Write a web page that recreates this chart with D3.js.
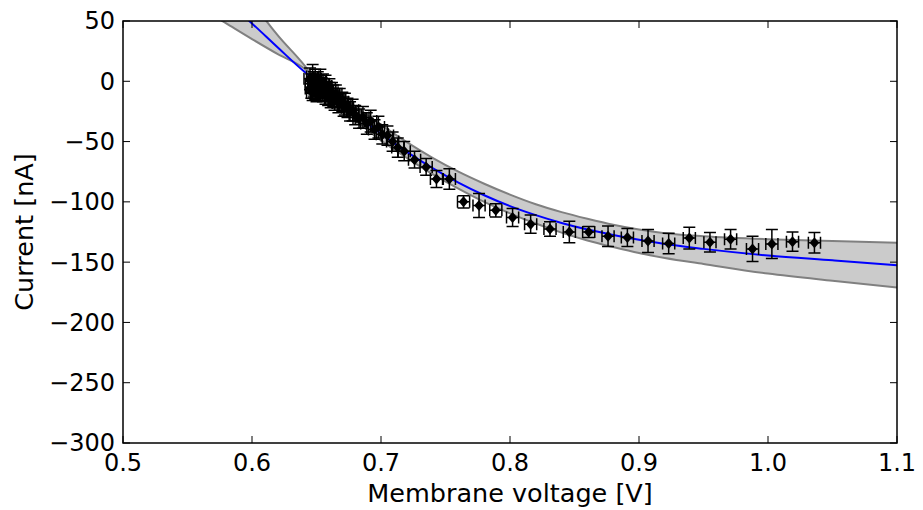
<!DOCTYPE html>
<html>
<head>
<meta charset="utf-8">
<script src="https://cdn.jsdelivr.net/npm/d3@7"></script>
<style>
  body { margin: 0; background: #fff; }
  text { font-family: "DejaVu Sans", sans-serif; }
</style>
</head>
<body>
<div id="chart"></div>
<script>
// measured points: voltage [V], current [nA], y error [nA]
const voltage = [
  0.645, 0.646, 0.646, 0.647, 0.647, 0.648, 0.648, 0.649, 0.649, 0.650,
  0.650, 0.651, 0.651, 0.652, 0.653, 0.653, 0.654, 0.655, 0.655, 0.656,
  0.657, 0.657, 0.658, 0.659, 0.660, 0.660, 0.661, 0.662, 0.663, 0.664,
  0.665, 0.666, 0.667, 0.668, 0.670, 0.671, 0.672, 0.674, 0.676, 0.678,
  0.680, 0.683, 0.686, 0.689, 0.692, 0.695, 0.698, 0.701, 0.705, 0.709,
  0.713, 0.718, 0.726, 0.735, 0.743, 0.753, 0.764, 0.776, 0.789, 0.802,
  0.816, 0.831, 0.846, 0.861, 0.876, 0.891, 0.907, 0.923, 0.939, 0.955,
  0.971, 0.988, 1.003, 1.019, 1.036
];
const current = [
  2, -2, -6, 4, -9, 0, -4, -7, 2, -3,
  -10, -1, -6, -3, -8, 1, -5, -9, -2, -6,
  -11, -4, -8, -12, -6, -10, -14, -9, -12, -16,
  -11, -14, -18, -15, -17, -21, -19, -22, -25, -24,
  -28, -31, -30, -35, -33, -40, -38, -44, -45, -50,
  -55, -58, -65, -71, -81, -81, -100, -103, -107, -113,
  -118.5, -122.5, -125, -125, -128.5, -129.5, -132.5, -134.5, -130, -133.5,
  -131, -139, -135, -133, -134
];
const currentErr = [
  9, 8, 8, 10, 7, 8, 9, 8, 8, 8,
  7, 9, 8, 8, 8, 9, 8, 8, 8, 8,
  8, 9, 8, 8, 8, 9, 8, 8, 9, 8,
  8, 8, 8, 9, 8, 8, 9, 8, 8, 9,
  8, 8, 9, 9, 9, 8, 9, 8, 8, 8,
  8, 8, 7, 7, 7, 8.5, 5, 10, 5.5, 7.5,
  7.5, 6, 9, 4.5, 8.5, 7.5, 9.5, 8.5, 9, 8,
  8, 10.5, 12, 8, 8.5
];
const voltageErr = 0.0047;

// fitted model with its confidence band
const fitV  = [0.57, 0.58, 0.60, 0.62, 0.64, 0.65, 0.66, 0.68, 0.70, 0.72, 0.74, 0.76, 0.78,
               0.80, 0.82, 0.84, 0.86, 0.88, 0.90, 0.92, 0.95, 1.00, 1.05, 1.10];
const fitI  = [77, 67, 48, 28, 8.5, 0, -9.5, -27, -43.5, -58.5, -72, -84, -94.5,
               -103.5, -111, -117.5, -123, -127.5, -131.5, -135, -139, -144.5, -148.5, -152.5];
const fitHi = [54.5, 48, 35, 22.5, 11, 2, -6, -21, -36, -50.5, -63.5, -75, -85,
               -94, -102, -108.5, -114, -119, -123, -126, -128.5, -131, -132.5, -134];
const fitLo = [110, 97, 66, 38, 14, 0, -13, -32, -49, -63.5, -77, -89, -100,
               -109.5, -118, -125.5, -132, -137.5, -142.5, -146.5, -151.5, -159.5, -165.5, -171];

const xTicks = [0.5, 0.6, 0.7, 0.8, 0.9, 1.0, 1.1];
const yTicks = [50, 0, -50, -100, -150, -200, -250, -300];

const width = 923;
const height = 510;
const margin = { top: 21, right: 26, bottom: 67, left: 123 };

const svg = d3.select('#chart')
  .append('svg')
  .attr('width', width)
  .attr('height', height);

const x = d3.scaleLinear()
  .domain([0.5, 1.1])
  .range([margin.left, width - margin.right]);

const y = d3.scaleLinear()
  .domain([-300, 50])
  .range([height - margin.bottom, margin.top]);

svg.append('clipPath')
  .attr('id', 'plot-clip')
  .append('rect')
  .attr('x', margin.left)
  .attr('y', margin.top)
  .attr('width', x.range()[1] - x.range()[0])
  .attr('height', y.range()[0] - y.range()[1]);

const plot = svg.append('g').attr('clip-path', 'url(#plot-clip)');

const fit = fitV.map((v, i) => ({ v, i: fitI[i], hi: fitHi[i], lo: fitLo[i] }));

// confidence band
plot.append('path')
  .datum(fit)
  .attr('fill', '#cbcbcb')
  .attr('stroke', 'none')
  .attr('d', d3.area().curve(d3.curveMonotoneX)
    .x(d => x(d.v)).y0(d => y(d.lo)).y1(d => y(d.hi)));

['hi', 'lo'].forEach(k => {
  plot.append('path')
    .datum(fit)
    .attr('fill', 'none')
    .attr('stroke', '#808080')
    .attr('stroke-width', 2)
    .attr('d', d3.line().curve(d3.curveMonotoneX).x(d => x(d.v)).y(d => y(d[k])));
});

// fit line
plot.append('path')
  .datum(fit)
  .attr('fill', 'none')
  .attr('stroke', '#0000ff')
  .attr('stroke-width', 2)
  .attr('d', d3.line().curve(d3.curveMonotoneX).x(d => x(d.v)).y(d => y(d.i)));

// error bars
const pts = voltage.map((v, i) => ({ v, c: current[i], e: currentErr[i] }));
const cap = 6;
const eb = svg.append('g')
  .attr('stroke', '#000')
  .attr('stroke-width', 1.5)
  .attr('fill', 'none');

const bars = eb.selectAll('g').data(pts).join('g');
bars.append('path').attr('d', d => {
  const cx = x(d.v), cy = y(d.c);
  const yt = y(d.c + d.e), yb = y(d.c - d.e);
  const xl = x(d.v - voltageErr), xr = x(d.v + voltageErr);
  return `M${cx},${yt}V${yb}` +
    `M${cx - cap},${yt}H${cx + cap}M${cx - cap},${yb}H${cx + cap}` +
    `M${xl},${cy}H${xr}` +
    `M${xl},${cy - cap}V${cy + cap}M${xr},${cy - cap}V${cy + cap}`;
});

// markers
svg.append('g')
  .selectAll('path')
  .data(pts)
  .join('path')
  .attr('fill', '#000')
  .attr('d', d => {
    const cx = x(d.v), cy = y(d.c);
    return `M${cx},${cy - 5.5}L${cx + 4.8},${cy}L${cx},${cy + 5.5}L${cx - 4.8},${cy}Z`;
  });

// frame and ticks (inside, on all sides)
const x0 = x.range()[0], x1 = x.range()[1];
const y0 = y.range()[0], y1 = y.range()[1];
const tl = 7;
const axes = svg.append('g').attr('stroke', '#000').attr('stroke-width', 1);

xTicks.forEach(t => {
  axes.append('line').attr('x1', x(t)).attr('x2', x(t)).attr('y1', y0).attr('y2', y0 - tl);
  axes.append('line').attr('x1', x(t)).attr('x2', x(t)).attr('y1', y1).attr('y2', y1 + tl);
});
yTicks.forEach(t => {
  axes.append('line').attr('x1', x0).attr('x2', x0 + tl).attr('y1', y(t)).attr('y2', y(t));
  axes.append('line').attr('x1', x1).attr('x2', x1 - tl).attr('y1', y(t)).attr('y2', y(t));
});

svg.append('rect')
  .attr('x', x0).attr('y', y1)
  .attr('width', x1 - x0).attr('height', y0 - y1)
  .attr('fill', 'none')
  .attr('stroke', '#000')
  .attr('stroke-width', 1.5);

const fontSize = 24;
svg.append('g')
  .selectAll('text')
  .data(xTicks)
  .join('text')
  .attr('x', d => x(d))
  .attr('y', y0 + 28)
  .attr('text-anchor', 'middle')
  .attr('font-size', fontSize)
  .text(d => d3.format('.1f')(d));

svg.append('g')
  .selectAll('text')
  .data(yTicks)
  .join('text')
  .attr('x', x0 - 8)
  .attr('y', d => y(d))
  .attr('dy', '0.35em')
  .attr('text-anchor', 'end')
  .attr('font-size', fontSize)
  .text(d => d < 0 ? '\u2212' + Math.abs(d) : d);

const labelSize = 25.5;
svg.append('text')
  .attr('x', (x0 + x1) / 2)
  .attr('y', 502)
  .attr('text-anchor', 'middle')
  .attr('font-size', labelSize)
  .text('Membrane voltage [V]');

svg.append('text')
  .attr('transform', `translate(33, ${(y0 + y1) / 2}) rotate(-90)`)
  .attr('text-anchor', 'middle')
  .attr('font-size', labelSize)
  .text('Current [nA]');
</script>
</body>
</html>
